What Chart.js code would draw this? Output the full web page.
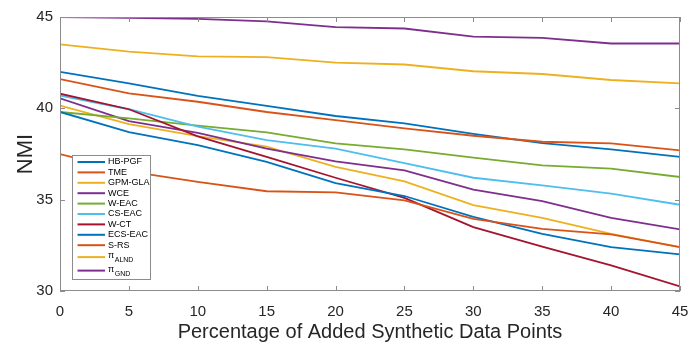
<!DOCTYPE html>
<html>
<head>
<meta charset="utf-8">
<script src="https://cdn.jsdelivr.net/npm/chart.js@4.4.1/dist/chart.umd.min.js"></script>
<style>
  body { margin: 0; background: #fff; }
  #wrap { position: relative; width: 688px; height: 343px; }
</style>
</head>
<body>
<div id="wrap"><canvas id="nmiChart"></canvas></div>
<script>
// Data
const xValues = [0, 5, 10, 15, 20, 25, 30, 35, 40, 45];
const yTickValues = [30, 35, 40, 45];

const seriesNames = ['HB-PGF', 'TME', 'GPM-GLA', 'WCE', 'W-EAC', 'CS-EAC', 'W-CT', 'ECS-EAC', 'S-RS', 'π_ALND', 'π_GND'];
const seriesColors = ['#0072BD', '#D95319', '#EDB120', '#7E2F8E', '#77AC30', '#4DBEEE', '#A2142F', '#0072BD', '#D95319', '#EDB120', '#7E2F8E'];

const hbPgf  = [42.0, 41.37, 40.68, 40.13, 39.58, 39.18, 38.6, 38.1, 37.75, 37.34];
const tme    = [41.6, 40.82, 40.36, 39.8, 39.36, 38.9, 38.5, 38.17, 38.08, 37.7];
const gpmGla = [40.15, 39.14, 38.48, 37.9, 36.8, 36.0, 34.7, 34.0, 33.13, 32.4];
const wce    = [40.55, 39.3, 38.66, 37.8, 37.1, 36.6, 35.55, 34.92, 34.0, 33.37];
const wEac   = [39.8, 39.45, 39.05, 38.68, 38.08, 37.75, 37.3, 36.88, 36.7, 36.24];
const csEac  = [40.7, 39.95, 39.0, 38.26, 37.8, 37.0, 36.2, 35.78, 35.33, 34.72];
const wCt    = [40.8, 39.95, 38.47, 37.34, 36.2, 35.1, 33.5, 32.43, 31.4, 30.25];
const ecsEac = [39.8, 38.7, 37.98, 37.07, 35.9, 35.2, 34.06, 33.13, 32.4, 32.0];
const sRs    = [37.5, 36.55, 35.97, 35.46, 35.4, 34.96, 33.95, 33.4, 33.1, 32.4];
const piAlnd = [43.5, 43.1, 42.84, 42.8, 42.5, 42.4, 42.03, 41.88, 41.55, 41.37];
const piGnd  = [45.0, 44.95, 44.9, 44.76, 44.45, 44.37, 43.93, 43.86, 43.55, 43.55];

const seriesValues = [hbPgf, tme, gpmGla, wce, wEac, csEac, wCt, ecsEac, sRs, piAlnd, piGnd];

const frameColor = '#8c8c8c';
const textColor = '#262626';

// box with inward ticks, matlab style
const framePlugin = {
    id: 'frame',
    afterDatasetsDraw(chart) {
        const { ctx, chartArea: a, scales } = chart;
        const tick = 5;
        ctx.save();
        ctx.strokeStyle = frameColor;
        ctx.lineWidth = 1;
        ctx.strokeRect(a.left + 0.5, a.top + 0.5, a.right - a.left - 1, a.bottom - a.top - 1);
        ctx.beginPath();
        scales.x.ticks.forEach(t => {
            const px = Math.round(scales.x.getPixelForValue(t.value)) + 0.5;
            ctx.moveTo(px, a.bottom); ctx.lineTo(px, a.bottom - tick);
            ctx.moveTo(px, a.top); ctx.lineTo(px, a.top + tick);
        });
        scales.y.ticks.forEach(t => {
            const py = Math.round(scales.y.getPixelForValue(t.value)) + 0.5;
            ctx.moveTo(a.left, py); ctx.lineTo(a.left + tick, py);
            ctx.moveTo(a.right, py); ctx.lineTo(a.right - tick, py);
        });
        ctx.stroke();
        ctx.restore();
    }
};

// legend drawn by hand so that "π_ALND" can get a subscript
const legendPlugin = {
    id: 'boxLegend',
    afterDraw(chart) {
        const ctx = chart.ctx;
        const box = { x: 72.5, y: 155.5, w: 78, h: 124 };
        const font = '9px "Liberation Sans Narrow", "Liberation Sans", Arial, sans-serif';
        const subFont = '7px "Liberation Sans Narrow", "Liberation Sans", Arial, sans-serif';
        ctx.save();
        ctx.fillStyle = '#fff';
        ctx.fillRect(box.x, box.y, box.w, box.h);
        ctx.strokeStyle = frameColor;
        ctx.lineWidth = 1;
        ctx.strokeRect(box.x, box.y, box.w, box.h);

        let y = 162;
        chart.data.datasets.forEach((ds, i) => {
            const parts = ds.label.split('_');
            if (parts.length > 1) y += 1.5;
            ctx.strokeStyle = ds.borderColor;
            ctx.lineWidth = 2;
            ctx.beginPath();
            ctx.moveTo(77.5, y);
            ctx.lineTo(105, y);
            ctx.stroke();

            ctx.fillStyle = '#000';
            ctx.textBaseline = 'middle';
            ctx.textAlign = 'left';
            ctx.font = font;
            ctx.fillText(parts[0], 108, y - (parts.length > 1 ? 1.5 : 0));
            if (parts.length > 1) {
                const w = ctx.measureText(parts[0]).width;
                ctx.font = subFont;
                ctx.fillText(parts[1], 108 + w + 0.5, y + 3);
                y += 12;
            } else {
                y += 10.4;
            }
        });
        ctx.restore();
    }
};

const datasets = seriesNames.map((name, i) => ({
    label: name,
    data: xValues.map((x, j) => ({ x: x, y: seriesValues[i][j] })),
    borderColor: seriesColors[i],
    backgroundColor: seriesColors[i],
    borderWidth: 1.8,
    pointRadius: 0,
    tension: 0,
    fill: false,
    order: seriesNames.length - i
}));

new Chart(document.getElementById('nmiChart'), {
    type: 'line',
    data: { datasets: datasets },
    options: {
        responsive: true,
        maintainAspectRatio: false,
        animation: false,
        devicePixelRatio: 1,
        layout: { padding: { top: 17, right: 8, left: 0, bottom: 0 } },
        plugins: {
            legend: { display: false },
            tooltip: { enabled: false }
        },
        scales: {
            x: {
                type: 'linear',
                min: 0,
                max: 45,
                afterBuildTicks: s => { s.ticks = xValues.map(v => ({ value: v })); },
                ticks: {
                    color: textColor,
                    padding: 12,
                    maxRotation: 0,
                    font: { family: '"Liberation Sans", Arial, sans-serif', size: 15 }
                },
                grid: { display: false, drawTicks: false },
                border: { display: false },
                title: {
                    display: true,
                    text: 'Percentage of Added Synthetic Data Points',
                    color: textColor,
                    padding: { top: 0, bottom: 0 },
                    font: { family: '"Liberation Sans", Arial, sans-serif', size: 20, lineHeight: 1.1 }
                },
                afterFit: s => {
                    s.height = 52;
                    s.paddingLeft = 0;
                    s.paddingRight = 0;
                }
            },
            y: {
                min: 30,
                max: 45,
                afterBuildTicks: s => { s.ticks = yTickValues.map(v => ({ value: v })); },
                ticks: {
                    color: textColor,
                    padding: 7,
                    font: { family: '"Liberation Sans", Arial, sans-serif', size: 15 }
                },
                grid: { display: false, drawTicks: false },
                border: { display: false },
                title: {
                    display: true,
                    text: 'NMI',
                    color: textColor,
                    padding: { top: 13, bottom: 0 },
                    font: { family: '"Liberation Sans", Arial, sans-serif', size: 22, lineHeight: 1.2 }
                },
                afterFit: s => {
                    s.width = 60;
                    s.paddingTop = 0;
                    s.paddingBottom = 0;
                }
            }
        }
    },
    plugins: [framePlugin, legendPlugin]
});
</script>
</body>
</html>
